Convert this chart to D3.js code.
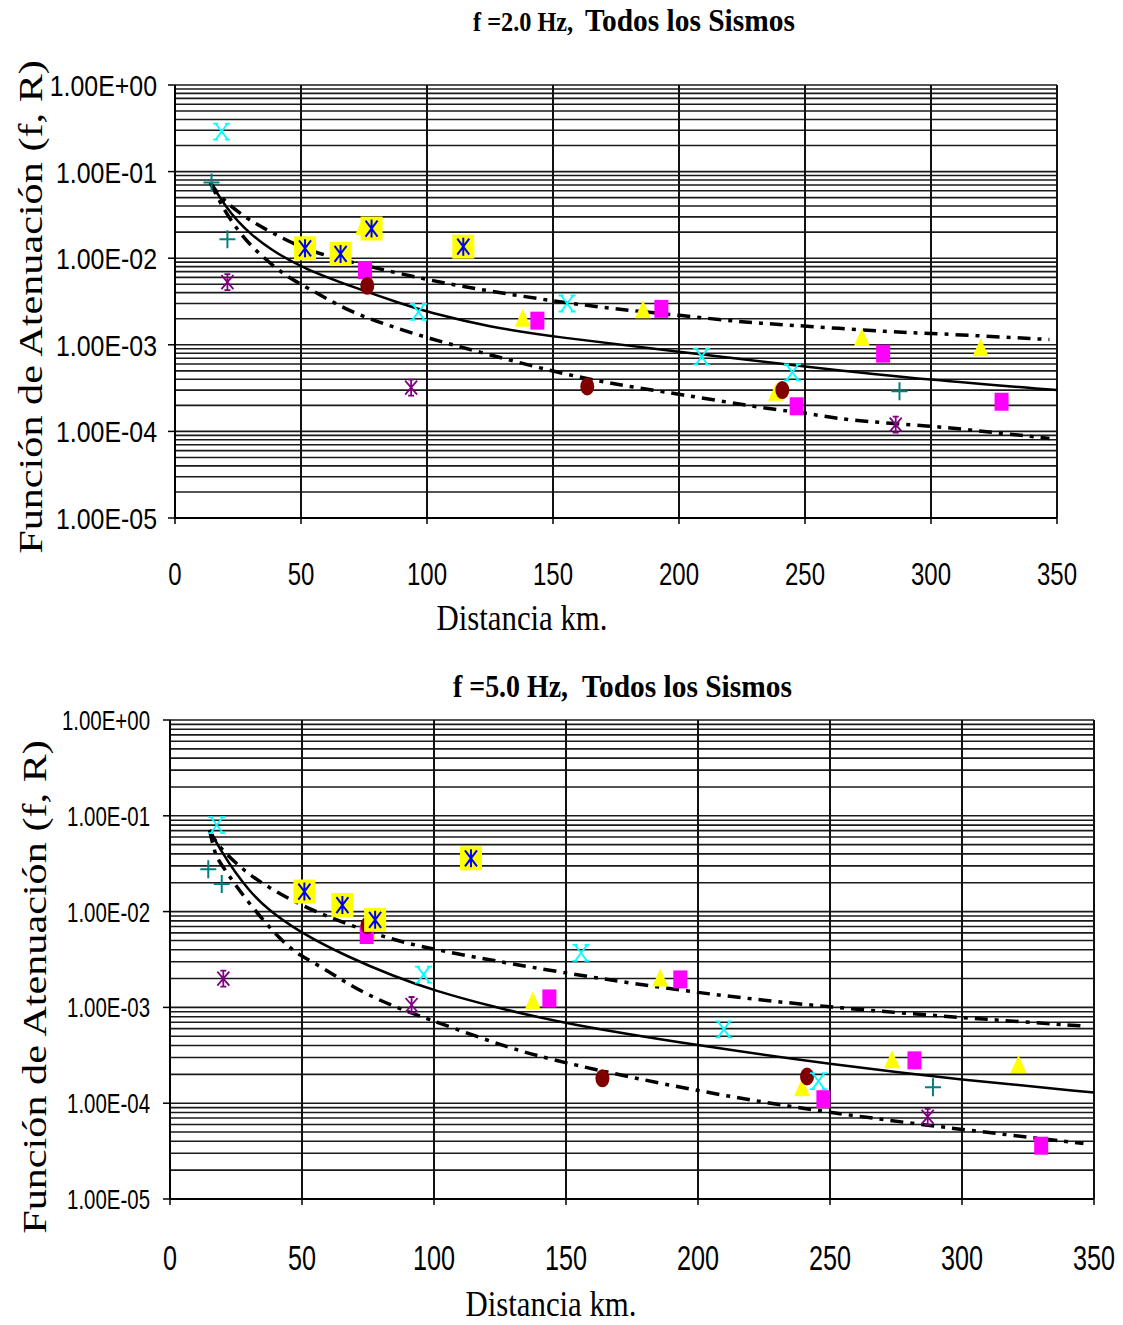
<!DOCTYPE html>
<html>
<head>
<meta charset="utf-8">
<script src="https://cdn.jsdelivr.net/npm/d3@7"></script>
<style>
body { margin: 0; background: #fff; }
</style>
</head>
<body>
<svg id="chart" width="1123" height="1325"></svg>
<script>
// ---- shared axis values ----
var distTicks = [0, 50, 100, 150, 200, 250, 300, 350];
var decades = [1, 0.1, 0.01, 0.001, 0.0001, 0.00001];
var decadeLabels = ["1.00E+00", "1.00E-01", "1.00E-02", "1.00E-03", "1.00E-04", "1.00E-05"];

// ---- f = 2.0 Hz ----
var f2Mid = [[14,0.075],[20.5,0.038],[25,0.0265],[30,0.019],[38,0.0125],[51,0.0076],[71,0.0046],[91,0.0029],[100,0.0024],[125,0.0016],[150,0.00124],[200,0.00083],[250,0.00056],[300,0.00039],[350,0.0003]];
var f2Up = [[14,0.075],[18,0.05],[28,0.029],[38,0.02],[52,0.0124],[69,0.0091],[100,0.0056],[124,0.0042],[150,0.0032],[174,0.0026],[200,0.0022],[227,0.0018],[250,0.00165],[285,0.0014],[300,0.00136],[347,0.00115]];
var f2Low = [[14,0.075],[18,0.043],[23,0.025],[30,0.0136],[44,0.0061],[52,0.0047],[68,0.0025],[84,0.0017],[100,0.0012],[124,0.00078],[150,0.00049],[174,0.00035],[200,0.00027],[236,0.00018],[250,0.000165],[266,0.000134],[300,0.000116],[323,0.0000985],[347,0.000083]];
var f2CyanX = [[18.5,0.29],[96.6,0.0024],[155.6,0.003],[209,0.00073],[245,0.00048]];
var f2Plus = [[14.5,0.075],[20.8,0.0165],[287.5,0.00029]];
var f2Star = [[20.8,0.0053],[93.7,0.00032],[286,0.00012]];
var f2BlueBox = [[51.6,0.013],[65.7,0.0112],[78,0.022],[114.4,0.0136]];
var f2Tri = [[74.7,0.023],[138,0.002],[185.7,0.0025],[238.5,0.00028],[272.6,0.0012],[319.7,0.00091]];
var f2Square = [[75.4,0.0073],[143.8,0.0019],[193,0.0026],[246.7,0.000195],[281,0.00079],[328,0.00022]];
var f2Circle = [[76.3,0.0048],[163.6,0.00033],[241,0.0003]];

// ---- f = 5.0 Hz ----
var f5Mid = [[15,0.071],[20,0.04],[25,0.025],[30,0.0165],[37,0.0105],[50,0.0059],[67,0.0034],[85,0.0021],[100,0.0015],[122,0.00102],[150,0.00067],[200,0.0004],[250,0.000255],[300,0.000175],[350,0.000129]];
var f5Up = [[15,0.071],[17.7,0.05],[26.5,0.029],[35,0.0194],[50.5,0.0112],[66.6,0.0075],[83,0.0052],[98.5,0.0041],[122,0.0031],[150,0.00227],[200,0.0014],[250,0.001],[300,0.00078],[346,0.00064]];
var f5Low = [[15,0.071],[17,0.04],[19,0.032],[29.7,0.0122],[42.3,0.0049],[49,0.0035],[58,0.0026],[73,0.0014],[90,0.0009],[100,0.00072],[129,0.00037],[150,0.00026],[200,0.000132],[250,0.000079],[300,0.000053],[346,0.000038]];
var f5CyanX = [[17.7,0.08],[96,0.0022],[155.7,0.0037],[209.8,0.00059],[245.6,0.00017]];
var f5Plus = [[14.5,0.0276],[19.6,0.0194],[289,0.000147]];
var f5Star = [[20.2,0.002],[91.5,0.00106],[287,0.000072]];
var f5BlueBox = [[50.9,0.0162],[65.3,0.0117],[77.7,0.0082],[114,0.036]];
var f5Tri = [[75,0.0063],[137.4,0.00115],[185.7,0.002],[239.4,0.000143],[273.5,0.00028],[321.4,0.00025]];
var f5Square = [[74.5,0.0057],[143.7,0.00124],[193.3,0.00196],[247.5,0.00011],[282,0.00028],[330,0.000036]];
var f5Circle = [[74.8,0.0072],[163.8,0.000182],[241.3,0.00019]];

var svg = d3.select("#chart");

function label(g, x, y, str, o) {
  return g.append("text")
    .attr("transform", "translate(" + x + "," + y + ") rotate(" + (o.rot || 0) + ") scale(" + (o.sx || 1) + ",1)")
    .attr("text-anchor", o.anchor || "start")
    .style("font-family", o.family)
    .style("font-size", o.size + "px")
    .style("font-weight", o.weight || "normal")
    .style("fill", "#000")
    .text(str);
}

var serif = "'Liberation Serif', 'Times New Roman', serif";
var sans = "'Liberation Sans', Arial, sans-serif";

function drawChart(c) {
  var g = svg.append("g");
  var x = d3.scaleLinear().domain([0, 350]).range([c.left, c.right]);
  var y = d3.scaleLog().domain([1e-5, 1]).range([c.bottom, c.top]);

  // horizontal grid (every log tick)
  g.selectAll("line.hg").data(y.ticks()).enter().append("line")
    .attr("x1", c.left).attr("x2", c.right)
    .attr("y1", function(d) { return y(d); })
    .attr("y2", function(d) { return y(d); })
    .style("stroke", "#1a1a1a").style("stroke-width", 1.6);

  // vertical grid
  g.selectAll("line.vg").data(distTicks).enter().append("line")
    .attr("x1", function(d) { return x(d); })
    .attr("x2", function(d) { return x(d); })
    .attr("y1", c.top).attr("y2", c.bottom)
    .style("stroke", "#111").style("stroke-width", 2);

  // axes lines and ticks
  g.append("line").attr("x1", c.left).attr("x2", c.left).attr("y1", c.top).attr("y2", c.bottom)
    .style("stroke", "#000").style("stroke-width", 2);
  g.append("line").attr("x1", c.left).attr("x2", c.right).attr("y1", c.bottom).attr("y2", c.bottom)
    .style("stroke", "#000").style("stroke-width", 2);
  g.selectAll("line.yt").data(decades).enter().append("line")
    .attr("x1", c.left - 7).attr("x2", c.left)
    .attr("y1", function(d) { return y(d); })
    .attr("y2", function(d) { return y(d); })
    .style("stroke", "#000").style("stroke-width", 1.5);
  g.selectAll("line.xt").data(distTicks).enter().append("line")
    .attr("x1", function(d) { return x(d); })
    .attr("x2", function(d) { return x(d); })
    .attr("y1", c.bottom).attr("y2", c.bottom + 6)
    .style("stroke", "#000").style("stroke-width", 1.5);

  // tick labels
  decades.forEach(function(d, i) {
    label(g, c.yLabRight, y(d) + c.yLabDy, decadeLabels[i],
      { family: sans, size: c.yLabSize, sx: c.yLabSx, anchor: "end" });
  });
  distTicks.forEach(function(d) {
    label(g, x(d), c.xLabY, String(d),
      { family: sans, size: c.xLabSize, sx: c.xLabSx, anchor: "middle" });
  });

  // titles
  label(g, c.t1x, c.tY, c.freq, { family: serif, size: c.t1Size, sx: c.t1Sx, weight: "bold" });
  label(g, c.t2x, c.tY, "Todos los Sismos", { family: serif, size: 31, sx: 0.95, weight: "bold" });
  label(g, c.xtX, c.xtY, "Distancia km.", { family: serif, size: c.xtSize, sx: 0.88, anchor: "middle" });
  label(g, c.ytX, c.ytY, "Función de Atenuación (f, R)",
    { family: serif, size: 33, sx: 1.28, anchor: "middle", rot: -90 });

  // curves
  var clipId = "clip" + c.id;
  g.append("clipPath").attr("id", clipId).append("rect")
    .attr("x", c.left).attr("y", c.top).attr("width", c.right - c.left).attr("height", c.bottom - c.top);
  var line = d3.line().x(function(d) { return x(d[0]); }).y(function(d) { return y(d[1]); })
    .curve(d3.curveBasis);
  var cg = g.append("g").attr("clip-path", "url(#" + clipId + ")");
  [c.up, c.low].forEach(function(s) {
    cg.append("path").attr("d", line(s))
      .style("fill", "none").style("stroke", "#000").style("stroke-width", 3.5)
      .style("stroke-dasharray", "13,7,4,7");
  });
  cg.append("path").attr("d", line(c.mid))
    .style("fill", "none").style("stroke", "#000").style("stroke-width", 2.5);

  // markers
  var mg = g.append("g");
  function place(data) {
    return mg.selectAll(null).data(data).enter().append("g")
      .attr("transform", function(d) { return "translate(" + x(d[0]) + "," + y(d[1]) + ")"; });
  }
  place(c.tri).append("path").attr("d", "M0,-10L8,8L-8,8Z").style("fill", "#ffff00");
  place(c.square).append("rect").attr("x", -7).attr("y", -9).attr("width", 14).attr("height", 18)
    .style("fill", "#ff00ff");
  place(c.circle).append("ellipse").attr("rx", 7).attr("ry", 9).style("fill", "#800000");
  place(c.cyanX).append("path").attr("d", "M-6,-8L6,8M6,-8L-6,8M-8.5,-8H-3.5M3.5,-8H8.5M-8.5,8H-3.5M3.5,8H8.5")
    .style("fill", "none").style("stroke", "#00ffff").style("stroke-width", 1.8);
  place(c.plus).append("path").attr("d", "M-8,0H8M0,-9V9")
    .style("fill", "none").style("stroke", "#008080").style("stroke-width", 2);
  place(c.star).append("path").attr("d", "M0,-8V8M-6,-7L6,7M6,-7L-6,7M-3,-8H3M-3,8H3")
    .style("fill", "none").style("stroke", "#800080").style("stroke-width", 1.8);
  var bb = place(c.blueBox);
  bb.append("rect").attr("x", -11).attr("y", -12).attr("width", 22).attr("height", 24).style("fill", "#ffff00");
  bb.append("path").attr("d", "M0,-9V9M-6,-8L6,8M6,-8L-6,8")
    .style("fill", "none").style("stroke", "#0000ff").style("stroke-width", 2);
}

drawChart({
  id: 1, left: 175, right: 1057, top: 85, bottom: 518,
  yLabRight: 157, yLabDy: 11, yLabSize: 30, yLabSx: 0.83,
  xLabY: 585, xLabSize: 32, xLabSx: 0.75,
  freq: "f =2.0 Hz,", t1x: 473, t1Size: 27, t1Sx: 0.9, t2x: 585, tY: 31,
  xtX: 522, xtY: 630, xtSize: 35, ytX: 42, ytY: 307,
  mid: f2Mid, up: f2Up, low: f2Low,
  cyanX: f2CyanX, plus: f2Plus, star: f2Star, blueBox: f2BlueBox,
  tri: f2Tri, square: f2Square, circle: f2Circle
});

drawChart({
  id: 2, left: 170, right: 1094, top: 720, bottom: 1199,
  yLabRight: 150, yLabDy: 10, yLabSize: 28, yLabSx: 0.73,
  xLabY: 1270, xLabSize: 35, xLabSx: 0.72,
  freq: "f =5.0 Hz,", t1x: 453, t1Size: 31, t1Sx: 0.9, t2x: 582, tY: 697,
  xtX: 551, xtY: 1316, xtSize: 35, ytX: 46, ytY: 987,
  mid: f5Mid, up: f5Up, low: f5Low,
  cyanX: f5CyanX, plus: f5Plus, star: f5Star, blueBox: f5BlueBox,
  tri: f5Tri, square: f5Square, circle: f5Circle
});
</script>
</body>
</html>
